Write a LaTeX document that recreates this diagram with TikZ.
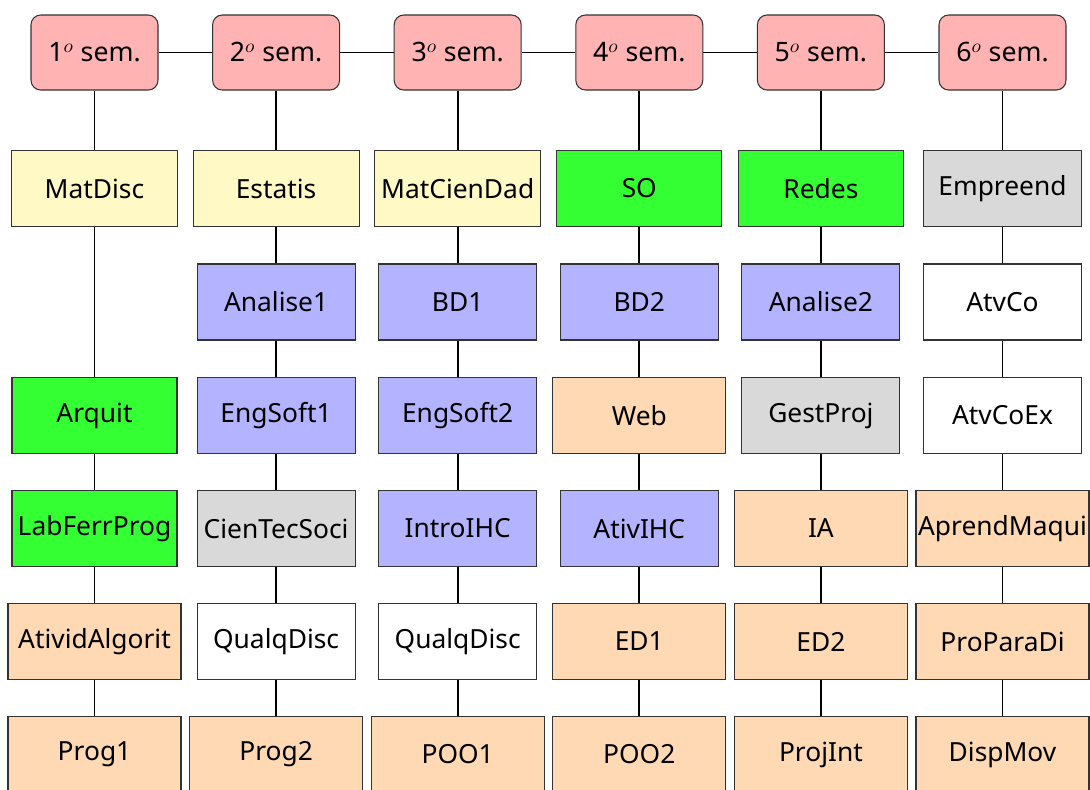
\documentclass[tikz,border=0pt]{standalone}
\usepackage{fontspec}
\setmainfont{Noto Sans}
\usepackage{tikz}
\usetikzlibrary{positioning}
\definecolor{semcolor}{RGB}{255,179,179}
\definecolor{yelcolor}{RGB}{255,249,197}
\definecolor{grncolor}{RGB}{51,255,51}
\definecolor{blucolor}{RGB}{179,179,255}
\definecolor{orgcolor}{RGB}{255,217,179}
\definecolor{grycolor}{RGB}{217,217,217}

\begin{document}
\begin{tikzpicture}[
  x=0.02cm, y=-0.02cm,
  sem/.style={rectangle, rounded corners=5.5pt, draw=black!80, line width=0.6pt,
              fill=semcolor, minimum width=2.54cm, minimum height=1.5cm,
              font=\fontsize{15.2}{18}\selectfont},
  course/.style={rectangle, draw=black!80, line width=0.6pt, minimum height=1.52cm,
                 minimum width=3.16cm, inner sep=1pt, font=\fontsize{15}{18}\selectfont},
  yel/.style={course, fill=yelcolor, minimum width=3.32cm},
  grn/.style={course, fill=grncolor, minimum width=3.3cm},
  blu/.style={course, fill=blucolor},
  gry/.style={course, fill=grycolor},
  wht/.style={course, fill=white},
  org/.style={course, fill=orgcolor, minimum width=3.46cm},
  link/.style={line width=1pt}
]
\useasboundingbox (0,0) rectangle (1090,789);

% semesters
\node[sem] (s1) at (94.5,52.5)  {1$^o$ sem.};
\node[sem] (s2) at (276.1,52.5) {2$^o$ sem.};
\node[sem] (s3) at (457.7,52.5) {3$^o$ sem.};
\node[sem] (s4) at (639.3,52.5) {4$^o$ sem.};
\node[sem] (s5) at (820.9,52.5) {5$^o$ sem.};
\node[sem] (s6) at (1002.5,52.5) {6$^o$ sem.};

% 1st semester
\node[yel] (matdisc)  at (94.5,188.5) {MatDisc};
\node[grn] (arquit)   at (94.5,415.5) {Arquit};
\node[grn] (labferr)  at (94.5,528.5) {LabFerrProg};
\node[org] (atalg)    at (94.5,641.5) {AtividAlgorit};
\node[org] (prog1)    at (94.5,754.5) {Prog1};

% 2nd semester
\node[yel] (estatis)  at (276.1,188.5) {Estatis};
\node[blu] (analise1) at (276.1,302)   {Analise1};
\node[blu] (engsoft1) at (276.1,415.5) {EngSoft1};
\node[gry] (cientec)  at (276.1,528.5) {CienTecSoci};
\node[wht] (qualq2)   at (276.1,641.5) {QualqDisc};
\node[org] (prog2)    at (276.1,754.5) {Prog2};

% 3rd semester
\node[yel] (matcien)  at (457.7,188.5) {MatCienDad};
\node[blu] (bd1)      at (457.7,302)   {BD1};
\node[blu] (engsoft2) at (457.7,415.5) {EngSoft2};
\node[blu] (introihc) at (457.7,528.5) {IntroIHC};
\node[wht] (qualq3)   at (457.7,641.5) {QualqDisc};
\node[org] (poo1)     at (457.7,754.5) {POO1};

% 4th semester
\node[grn] (so)       at (639.3,188.5) {SO};
\node[blu] (bd2)      at (639.3,302)   {BD2};
\node[org] (web)      at (639.3,415.5) {Web};
\node[blu] (ativihc)  at (639.3,528.5) {AtivIHC};
\node[org] (ed1)      at (639.3,641.5) {ED1};
\node[org] (poo2)     at (639.3,754.5) {POO2};

% 5th semester
\node[grn] (redes)    at (820.9,188.5) {Redes};
\node[blu] (analise2) at (820.9,302)   {Analise2};
\node[gry] (gestproj) at (820.9,415.5) {GestProj};
\node[org] (ia)       at (820.9,528.5) {IA};
\node[org] (ed2)      at (820.9,641.5) {ED2};
\node[org] (projint)  at (820.9,754.5) {ProjInt};

% 6th semester
\node[gry] (empreend) at (1002.5,188.5) {Empreend};
\node[wht] (atvco)    at (1002.5,302)   {AtvCo};
\node[wht] (atvcoex)  at (1002.5,415.5) {AtvCoEx};
\node[org] (aprend)   at (1002.5,528.5) {AprendMaqui};
\node[org] (propara)  at (1002.5,641.5) {ProParaDi};
\node[org] (dispmov)  at (1002.5,754.5) {DispMov};

\draw[link] (s1) -- (s2) -- (s3) -- (s4) -- (s5) -- (s6);
\draw[link] (s1) -- (matdisc) -- (arquit) -- (labferr) -- (atalg) -- (prog1);
\draw[link] (s2) -- (estatis) -- (analise1) -- (engsoft1) -- (cientec) -- (qualq2) -- (prog2);
\draw[link] (s3) -- (matcien) -- (bd1) -- (engsoft2) -- (introihc) -- (qualq3) -- (poo1);
\draw[link] (s4) -- (so) -- (bd2) -- (web) -- (ativihc) -- (ed1) -- (poo2);
\draw[link] (s5) -- (redes) -- (analise2) -- (gestproj) -- (ia) -- (ed2) -- (projint);
\draw[link] (s6) -- (empreend) -- (atvco) -- (atvcoex) -- (aprend) -- (propara) -- (dispmov);

\end{tikzpicture}
\end{document}
